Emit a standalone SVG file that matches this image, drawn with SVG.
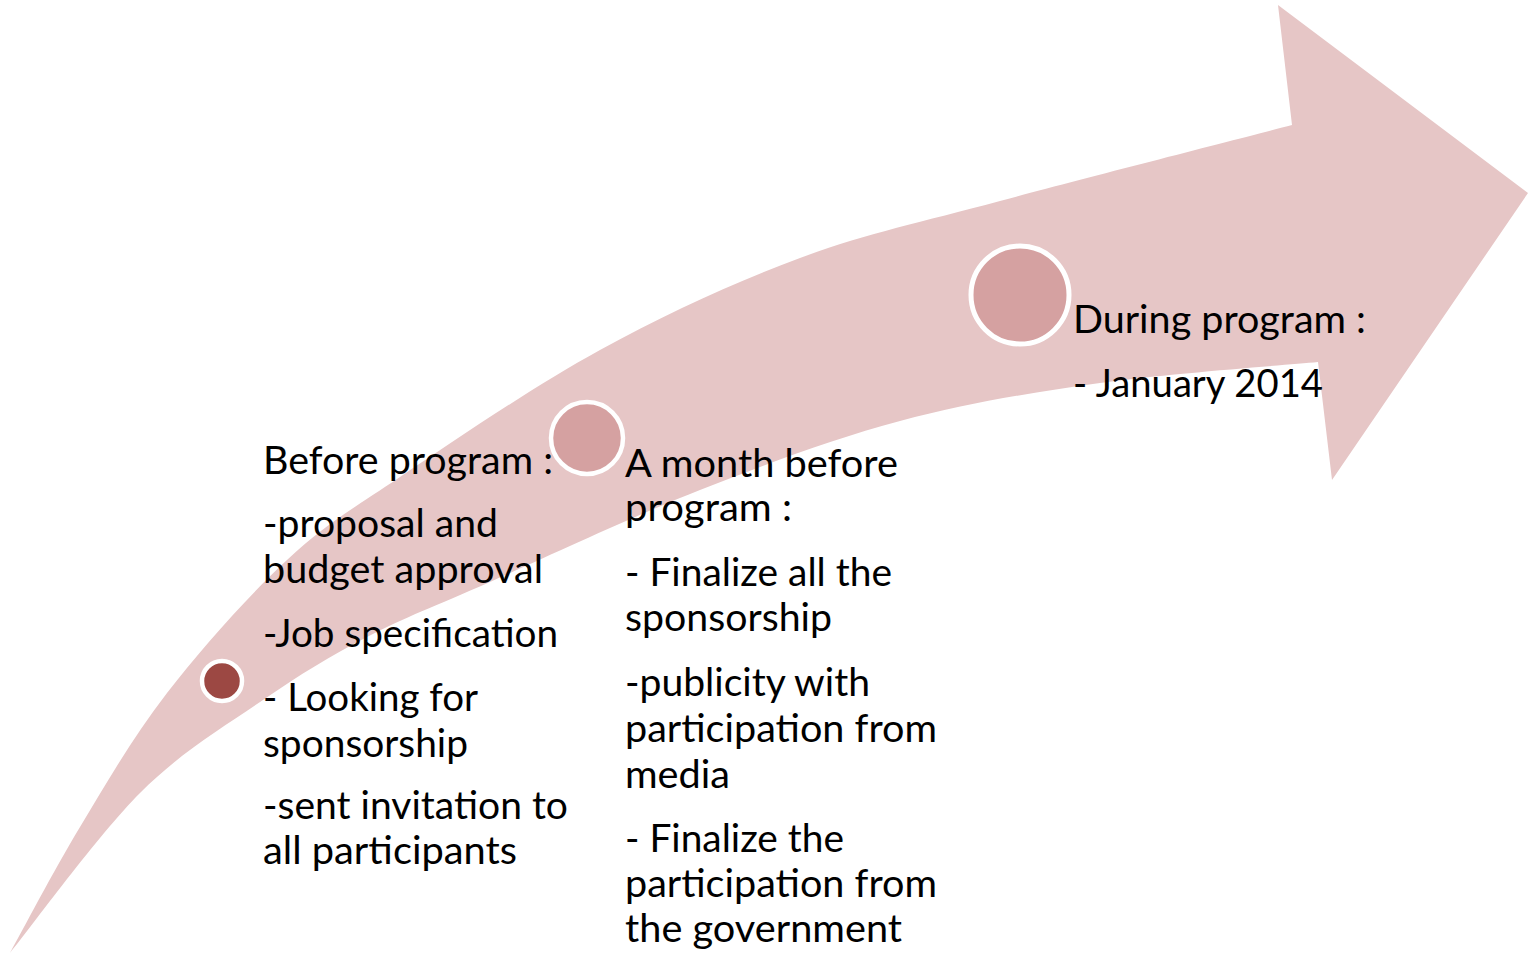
<svg xmlns="http://www.w3.org/2000/svg" width="1530" height="954" viewBox="0 0 1530 954">
<style>
  .bg { fill: #ffffff; }
  .arrow { fill: #E6C6C6; }
  .dot { stroke: #ffffff; }
  .dot1 { fill: #9C4843; stroke-width: 4.5; }
  .dot2 { fill: #D5A1A1; stroke-width: 4.5; }
  .dot3 { fill: #D5A1A1; stroke-width: 5; }
  text { font-family: "Lato", "Open Sans", "Liberation Sans", sans-serif; font-size: 39px; fill: #000000; }
</style>
<rect class="bg" x="0" y="0" width="1530" height="954"/>
<g id="arrow">
  <path class="arrow" d="M10,953
    C21.7,932 53.8,870.3 80,827
    C106.2,783.7 132.5,737.5 167,693
    C201.5,648.5 248.2,596 287,560
    C325.8,524 347.8,512 400,477
    C452.2,442 533.3,386.5 600,350
    C666.7,313.5 733.3,282.8 800,258
    C866.7,233.2 918,223.2 1000,201
    C1082,178.8 1243.3,137.7 1292,125
    L1278,5 L1528,193 L1332,480 L1318,362
    C1281.7,365.5 1169.7,373.2 1100,383
    C1030.3,392.8 966.7,403.2 900,421
    C833.3,438.8 768.3,463.2 700,490
    C631.7,516.8 545.5,557.5 490,582
    C434.5,606.5 404.8,617.3 367,637
    C329.2,656.7 300.8,674 263,700
    C225.2,726 182.2,750.8 140,793
    C97.8,835.2 31.7,926.3 10,953 Z"/>
</g>
<g id="connectors"></g>
<g id="node-before">
  <text x="263" y="474" textLength="290" lengthAdjust="spacingAndGlyphs">Before program :</text>
  <text x="263" y="537" textLength="235" lengthAdjust="spacingAndGlyphs">-proposal and</text>
  <text x="263" y="583" textLength="280" lengthAdjust="spacingAndGlyphs">budget approval</text>
  <text x="263" y="647" textLength="295" lengthAdjust="spacingAndGlyphs">-Job specification</text>
  <text x="263" y="711" textLength="215" lengthAdjust="spacingAndGlyphs">- Looking for</text>
  <text x="263" y="757" textLength="205" lengthAdjust="spacingAndGlyphs">sponsorship</text>
  <text x="263" y="819" textLength="305" lengthAdjust="spacingAndGlyphs">-sent invitation to</text>
  <text x="263" y="864" textLength="254" lengthAdjust="spacingAndGlyphs">all participants</text>
  <circle class="dot dot1" cx="222" cy="681" r="20"/>
</g>
<g id="node-month">
  <text x="625" y="477" textLength="273" lengthAdjust="spacingAndGlyphs">A month before</text>
  <text x="625" y="521" textLength="167" lengthAdjust="spacingAndGlyphs">program :</text>
  <text x="625" y="586" textLength="267" lengthAdjust="spacingAndGlyphs">- Finalize all the</text>
  <text x="625" y="631" textLength="207" lengthAdjust="spacingAndGlyphs">sponsorship</text>
  <text x="625" y="696" textLength="245" lengthAdjust="spacingAndGlyphs">-publicity with</text>
  <text x="625" y="742" textLength="312" lengthAdjust="spacingAndGlyphs">participation from</text>
  <text x="625" y="788" textLength="105" lengthAdjust="spacingAndGlyphs">media</text>
  <text x="625" y="852" textLength="219" lengthAdjust="spacingAndGlyphs">- Finalize the</text>
  <text x="625" y="897" textLength="312" lengthAdjust="spacingAndGlyphs">participation from</text>
  <text x="625" y="942" textLength="277" lengthAdjust="spacingAndGlyphs">the government</text>
  <circle class="dot dot2" cx="587" cy="438" r="36"/>
</g>
<g id="node-during">
  <text x="1073" y="333" textLength="293" lengthAdjust="spacingAndGlyphs">During program :</text>
  <text x="1073" y="397" textLength="250" lengthAdjust="spacingAndGlyphs">- January 2014</text>
  <circle class="dot dot3" cx="1020" cy="295" r="49"/>
</g>
</svg>
